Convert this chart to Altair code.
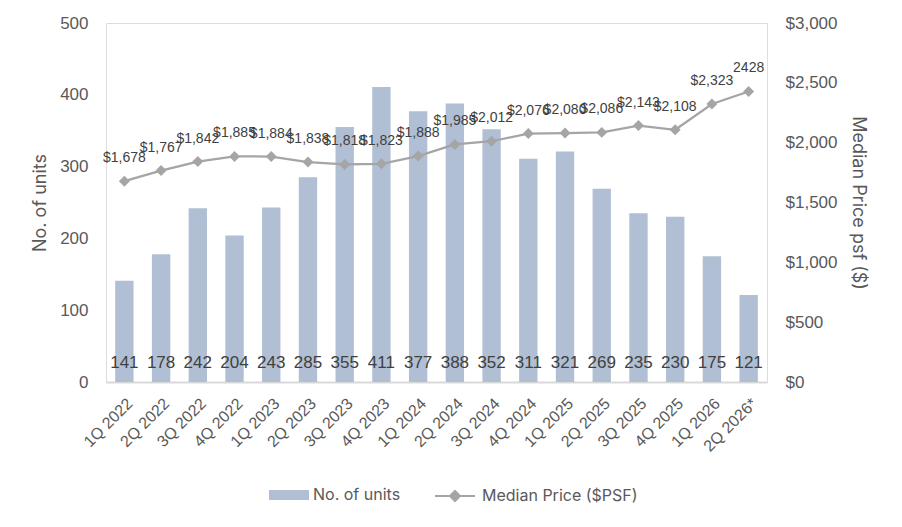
import altair as alt
import pandas as pd

quarters = ["1Q 2022", "2Q 2022", "3Q 2022", "4Q 2022", "1Q 2023", "2Q 2023",
            "3Q 2023", "4Q 2023", "1Q 2024", "2Q 2024", "3Q 2024", "4Q 2024",
            "1Q 2025", "2Q 2025", "3Q 2025", "4Q 2025", "1Q 2026", "2Q 2026*"]
units = [141, 178, 242, 204, 243, 285, 355, 411, 377, 388, 352, 311, 321, 269, 235, 230, 175, 121]
prices = [1678, 1767, 1842, 1885, 1884, 1838, 1818, 1823, 1888, 1985, 2012, 2076,
          2080, 2086, 2143, 2108, 2323, 2428]
price_labels = ["$1,678", "$1,767", "$1,842", "$1,885", "$1,884", "$1,838", "$1,818",
                "$1,823", "$1,888", "$1,985", "$2,012", "$2,076", "$2,080", "$2,086",
                "$2,143", "$2,108", "$2,323", "2428"]
units_axis_values = [0, 100, 200, 300, 400, 500]
price_axis_values = [0, 500, 1000, 1500, 2000, 2500, 3000]

BAR = "#B0BFD3"
LINE = "#A5A5A5"
TXT = "#404040"
AX = "#595959"

df = pd.DataFrame({
    "quarter": quarters,
    "units": units,
    "price": prices,
    "price_label": price_labels,
    "s_bar": ["No. of units"] * len(quarters),
    "s_line": ["Median Price ($PSF)"] * len(quarters),
})

base = alt.Chart(df)

x = alt.X("quarter:N", sort=quarters,
          scale=alt.Scale(paddingInner=0.5, paddingOuter=0.25),
          axis=alt.Axis(title=None, labelAngle=-45, labelFontSize=16, labelColor=AX,
                        labelFont="Liberation Sans", domainColor="#D9D9D9", domainWidth=2,
                        ticks=False, labelPadding=13, grid=False))

y_units = alt.Y("units:Q", scale=alt.Scale(domain=[0, 500], nice=False),
                axis=alt.Axis(values=units_axis_values, title="No. of units", grid=False,
                              ticks=False, domain=False, labelFontSize=17, labelColor=AX,
                              labelFont="Liberation Sans", labelPadding=18,
                              titleFont="Inter", titleFontSize=18, titleFontWeight="normal",
                              titleColor=AX, titlePadding=10))

bars = base.mark_bar().encode(
    x=x, y=y_units,
    fill=alt.Fill("s_bar:N", scale=alt.Scale(domain=["No. of units"], range=[BAR]),
                  legend=alt.Legend(title=None, orient="none", legendX=163, legendY=452,
                                    symbolType="M-1,-0.25H1V0.25H-1Z", symbolSize=1600,
                                    symbolStrokeWidth=0, labelFontSize=16, labelFont="Inter",
                                    labelColor=AX, labelOffset=4, padding=0)),
)

bar_text = base.mark_text(dy=-19, fontSize=17, color=TXT, font="Liberation Sans").encode(
    x=x, y=alt.datum(0, type="quantitative"), text="units:Q")

y_price = alt.Y("price:Q", scale=alt.Scale(domain=[0, 3000], nice=False),
                axis=alt.Axis(orient="right", values=price_axis_values, format="$,.0f",
                              title="Median Price psf ($)", grid=False, ticks=False,
                              domain=False, labelFontSize=17, labelColor=AX,
                              labelFont="Liberation Sans", labelPadding=18,
                              titleFont="Inter", titleFontSize=18, titleFontWeight="normal",
                              titleColor=AX, titlePadding=12))

line = base.mark_line(strokeWidth=2.25).encode(
    x=x, y=y_price,
    stroke=alt.Stroke("s_line:N", scale=alt.Scale(domain=["Median Price ($PSF)"], range=[LINE]),
                      legend=alt.Legend(title=None, orient="none", legendX=328, legendY=452,
                                        symbolType="M-1,0H1M0,-0.25L0.25,0L0,0.25L-0.25,0Z",
                                        symbolSize=1600, symbolStrokeWidth=2,
                                        symbolFillColor=LINE, labelFontSize=16,
                                        labelFont="Inter", labelColor=AX, labelOffset=6,
                                        padding=0)),
)

points = base.mark_point(shape="diamond", filled=True, size=120, color=LINE, opacity=1).encode(
    x=x, y=y_price)

price_text = base.mark_text(dy=-23, fontSize=14, color=TXT, font="Liberation Sans").encode(
    x=x, y=y_price, text="price_label:N")

chart = alt.layer(
    alt.layer(bars, bar_text),
    alt.layer(line, points, price_text),
).resolve_scale(y="independent").properties(
    width=661, height=359,
    padding={"left": 98, "top": 15, "right": 120, "bottom": 125},
    autosize=alt.AutoSizeParams(type="none"),
).configure_view(stroke=None).configure(font="Liberation Sans")

chart.save("out.html", embed_options={"renderer": "svg", "actions": False})
